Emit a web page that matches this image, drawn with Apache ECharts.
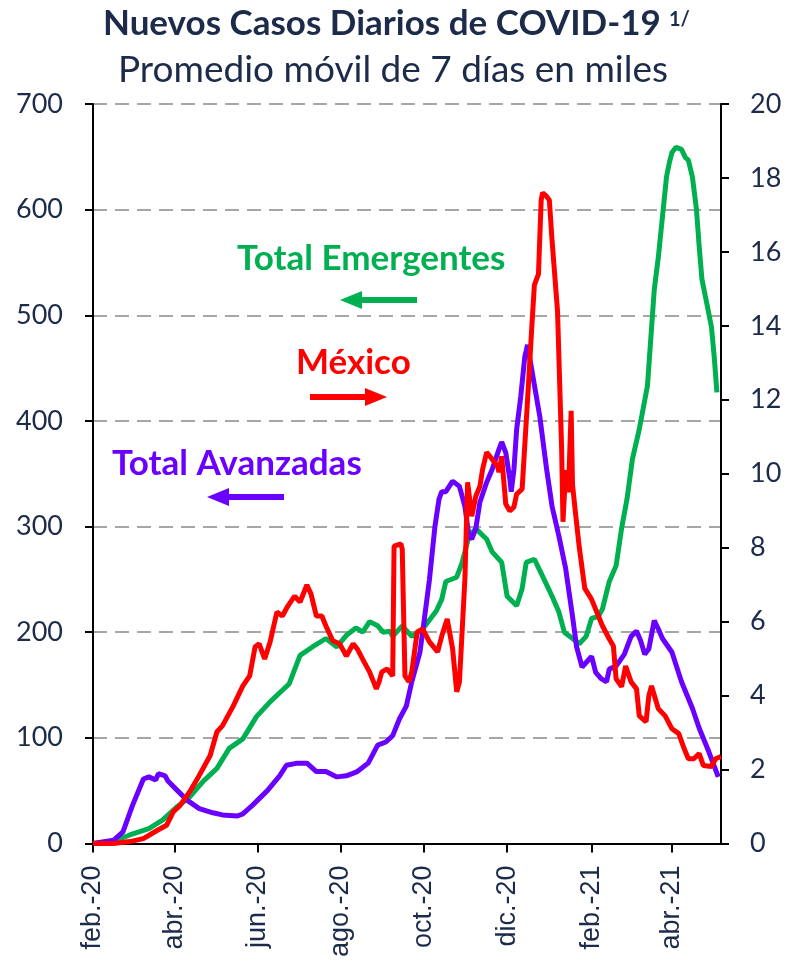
<!DOCTYPE html>
<html>
<head>
<meta charset="utf-8">
<script src="https://cdn.jsdelivr.net/npm/echarts@6/dist/echarts.min.js"></script>
<style>
  html, body { margin: 0; padding: 0; background: #fff; }
  #chart { width: 786px; height: 960px; }
</style>
</head>
<body>
<div id="chart"></div>
<script>
// ejes
var xTickDates = ['2020-02-01', '2020-04-01', '2020-06-01', '2020-08-01', '2020-10-01', '2020-12-01', '2021-02-01', '2021-04-01'];
var xMin = '2020-02-01', xMax = '2021-05-07';
var mesesEs = ['ene.', 'feb.', 'mar.', 'abr.', 'may.', 'jun.', 'jul.', 'ago.', 'sep.', 'oct.', 'nov.', 'dic.'];

// Total Emergentes (eje izquierdo, miles)
var emergDates = ['2020-02-01','2020-02-16','2020-02-28','2020-03-13','2020-03-23','2020-04-03','2020-04-12','2020-04-22','2020-05-02','2020-05-11',
  '2020-05-21','2020-05-31','2020-06-10','2020-06-19','2020-06-24','2020-07-02','2020-07-11','2020-07-21','2020-07-29','2020-08-05',
  '2020-08-12','2020-08-17','2020-08-22','2020-08-28','2020-09-01','2020-09-06','2020-09-08','2020-09-15','2020-09-22','2020-09-30',
  '2020-10-10','2020-10-14','2020-10-17','2020-10-25','2020-10-29','2020-11-03','2020-11-08','2020-11-16','2020-11-20','2020-11-27',
  '2020-12-01','2020-12-08','2020-12-12','2020-12-15','2020-12-21','2020-12-27','2021-01-03','2021-01-08','2021-01-12','2021-01-18',
  '2021-01-23','2021-01-28','2021-02-01','2021-02-06','2021-02-09','2021-02-14','2021-02-19','2021-02-23','2021-02-27','2021-03-03',
  '2021-03-08','2021-03-14','2021-03-19','2021-03-22','2021-03-25','2021-03-28','2021-03-30','2021-04-01','2021-04-04','2021-04-08',
  '2021-04-11','2021-04-13','2021-04-16','2021-04-19','2021-04-21','2021-04-23','2021-04-26','2021-04-30','2021-05-02','2021-05-04'];
var emergValues = [0,2,8,14,22,35,44,59,71,90,
  99,120,134,145,151,178,186,194,186,197,
  204,200,210,206,200,201,196,206,196,203,
  220,231,248,252,266,291,298,288,276,266,
  234,225,241,266,269,253,234,219,200,194,
  189,196,213,215,222,248,263,298,326,364,
  392,433,524,555,593,631,644,654,659,657,
  649,647,631,600,565,534,515,489,461,427];

// Total Avanzadas (eje izquierdo, miles)
var avanzDates = ['2020-02-01','2020-02-16','2020-02-23','2020-03-01','2020-03-09','2020-03-13','2020-03-18','2020-03-20','2020-03-25','2020-03-27',
  '2020-04-03','2020-04-10','2020-04-19','2020-04-29','2020-05-06','2020-05-17','2020-05-21','2020-05-28','2020-06-08','2020-06-17',
  '2020-06-22','2020-06-30','2020-07-07','2020-07-14','2020-07-21','2020-07-29','2020-08-05','2020-08-13','2020-08-21','2020-08-28',
  '2020-09-03','2020-09-08','2020-09-13','2020-09-18','2020-09-22','2020-09-28','2020-10-01','2020-10-05','2020-10-09','2020-10-12',
  '2020-10-14','2020-10-17','2020-10-22','2020-10-27','2020-10-31','2020-11-03','2020-11-05','2020-11-08','2020-11-11','2020-11-16',
  '2020-11-20','2020-11-25','2020-11-27','2020-11-30','2020-12-03','2020-12-04','2020-12-06','2020-12-08','2020-12-11','2020-12-14',
  '2020-12-16','2020-12-19','2020-12-25','2020-12-30','2021-01-03','2021-01-08','2021-01-13','2021-01-18','2021-01-21','2021-01-25',
  '2021-02-01','2021-02-04','2021-02-08','2021-02-12','2021-02-14','2021-02-19','2021-02-25','2021-03-02','2021-03-06','2021-03-09',
  '2021-03-12','2021-03-15','2021-03-19','2021-03-22','2021-03-25','2021-04-01','2021-04-08','2021-04-16','2021-04-21','2021-04-28',
  '2021-05-05'];
var avanzValues = [0,3,11,36,61,63,60,66,64,59,
  50,41,33,29,27,26,28,36,50,64,
  74,76,76,68,68,63,64,68,76,93,
  96,102,118,130,153,181,210,250,300,326,
  333,333,343,338,319,291,288,298,323,342,
  354,373,380,370,345,333,354,392,423,461,
  472,449,404,354,319,291,260,215,186,167,
  177,162,156,153,165,168,179,196,201,192,
  179,184,211,203,194,181,153,128,109,87,
  63];

// México (eje derecho, miles)
var mexDates = ['2020-02-01','2020-02-16','2020-02-28','2020-03-09','2020-03-19','2020-03-26','2020-03-31','2020-04-05','2020-04-12','2020-04-19',
  '2020-04-27','2020-05-02','2020-05-06','2020-05-14','2020-05-21','2020-05-26','2020-05-30','2020-06-02','2020-06-06','2020-06-10',
  '2020-06-15','2020-06-19','2020-06-23','2020-06-28','2020-07-02','2020-07-07','2020-07-10','2020-07-14','2020-07-18','2020-07-21',
  '2020-07-26','2020-07-31','2020-08-05','2020-08-10','2020-08-13','2020-08-18','2020-08-22','2020-08-27','2020-08-29','2020-08-31',
  '2020-09-04','2020-09-08','2020-09-09','2020-09-14','2020-09-15','2020-09-17','2020-09-20','2020-09-22','2020-09-26','2020-09-30',
  '2020-10-05','2020-10-11','2020-10-14','2020-10-18','2020-10-22','2020-10-25','2020-10-27','2020-10-31','2020-11-02','2020-11-05',
  '2020-11-08','2020-11-11','2020-11-13','2020-11-16','2020-11-20','2020-11-24','2020-11-25','2020-11-27','2020-11-30','2020-12-03',
  '2020-12-06','2020-12-08','2020-12-12','2020-12-16','2020-12-19','2020-12-21','2020-12-24','2020-12-26','2020-12-27','2020-12-30',
  '2021-01-01','2021-01-03','2021-01-07','2021-01-10','2021-01-11','2021-01-13','2021-01-15','2021-01-17','2021-01-18','2021-01-20',
  '2021-01-23','2021-01-27','2021-02-01','2021-02-06','2021-02-09','2021-02-14','2021-02-17','2021-02-19','2021-02-23','2021-02-26',
  '2021-03-02','2021-03-06','2021-03-08','2021-03-13','2021-03-15','2021-03-17','2021-03-22','2021-03-27','2021-04-01','2021-04-06',
  '2021-04-10','2021-04-13','2021-04-17','2021-04-21','2021-04-24','2021-04-30','2021-05-03','2021-05-07'];
var mexValues = [0,0,0.05,0.13,0.35,0.49,0.86,1.03,1.40,1.84,
  2.38,3.02,3.18,3.72,4.26,4.53,5.32,5.40,4.99,5.45,
  6.26,6.15,6.42,6.69,6.53,6.99,6.75,6.15,6.15,5.88,
  5.48,5.40,5.07,5.40,5.26,4.91,4.64,4.18,4.37,4.64,
  4.72,4.53,8.04,8.10,7.96,4.53,4.37,4.64,5.72,5.80,
  5.45,5.18,5.61,6.07,5.26,4.10,4.37,7.15,9.77,8.85,
  9.39,9.66,10.12,10.58,10.39,10.20,10.04,10.47,9.18,8.99,
  9.10,9.45,9.58,12.0,13.9,15.1,15.4,17.4,17.6,17.5,
  17.4,16.3,14.4,10.7,8.7,10.1,9.5,11.7,9.7,9.0,
  8.0,6.9,6.6,6.15,5.88,5.53,5.34,4.45,4.24,4.80,
  4.37,4.18,3.45,3.29,3.99,4.26,3.64,3.45,3.10,2.97,
  2.56,2.29,2.29,2.43,2.11,2.08,2.29,2.35];

function ts(f) {
  return +new Date(f + 'T00:00:00');
}
function pares(fechas, valores) {
  return fechas.map(function (f, i) { return [ts(f), valores[i]]; });
}

var navy = '#1d2b4b';
var verde = '#00B050', rojo = '#FF0000', morado = '#6A00FF';
var tickVals = xTickDates.map(ts);

var myChart = echarts.init(document.getElementById('chart'));
var option = {
  animation: false,
  backgroundColor: '#fff',
  title: [
    {
      text: 'Nuevos Casos Diarios de COVID-19',
      left: 98, top: 1,
      textStyle: { color: navy, fontFamily: 'Lato', fontWeight: 'bold', fontSize: 35 }
    },
    {
      text: '1/',
      left: 664, top: 5,
      textStyle: { color: navy, fontFamily: 'Lato', fontWeight: 'bold', fontSize: 20 }
    },
    {
      text: 'Promedio móvil de 7 días en miles',
      left: 'center', top: 47,
      textStyle: { color: navy, fontFamily: 'Lato', fontWeight: 'normal', fontSize: 37 }
    }
  ],
  grid: { left: 93, right: 65, top: 104, bottom: 115, containLabel: false },
  xAxis: {
    type: 'value',
    min: ts(xMin),
    max: ts(xMax),
    axisLine: { lineStyle: { color: '#000', width: 2 } },
    axisTick: {
      show: true, length: 9, lineStyle: { color: '#000', width: 2 },
      customValues: tickVals
    },
    axisLabel: {
      rotate: 90,
      color: navy,
      fontFamily: 'Liberation Sans',
      fontSize: 27,
      margin: 22,
      customValues: tickVals,
      formatter: function (v) {
        var d = new Date(v);
        return mesesEs[d.getMonth()] + '-' + String(d.getFullYear()).slice(2);
      }
    },
    splitLine: { show: false }
  },
  yAxis: [
    {
      type: 'value', min: 0, max: 700, interval: 100,
      axisLine: { show: true, lineStyle: { color: '#000', width: 2 } },
      axisTick: { show: true, length: 8, lineStyle: { color: '#000', width: 2 } },
      axisLabel: { color: navy, fontFamily: 'Lato', fontSize: 27, margin: 30 },
      splitLine: { show: true, lineStyle: { color: '#A6A6A6', width: 2, type: [14, 8] } }
    },
    {
      type: 'value', min: 0, max: 20, interval: 2,
      axisLine: { show: true, lineStyle: { color: '#000', width: 2 } },
      axisTick: { show: true, length: 8, lineStyle: { color: '#000', width: 2 } },
      axisLabel: { color: navy, fontFamily: 'Lato', fontSize: 27, margin: 29 },
      splitLine: { show: false }
    }
  ],
  series: [
    {
      name: 'Total Emergentes', type: 'line', yAxisIndex: 0,
      data: pares(emergDates, emergValues),
      showSymbol: false, z: 2,
      lineStyle: { color: verde, width: 5 }, itemStyle: { color: verde }
    },
    {
      name: 'Total Avanzadas', type: 'line', yAxisIndex: 0,
      data: pares(avanzDates, avanzValues),
      showSymbol: false, z: 3,
      lineStyle: { color: morado, width: 5 }, itemStyle: { color: morado }
    },
    {
      name: 'México', type: 'line', yAxisIndex: 1,
      data: pares(mexDates, mexValues),
      showSymbol: false, z: 4,
      lineStyle: { color: rojo, width: 5 }, itemStyle: { color: rojo }
    }
  ],
  graphic: [
    // etiquetas y flechas
    { type: 'text', left: 237, top: 241, style: { text: 'Total Emergentes', fill: verde, font: 'bold 35px Lato' } },
    { type: 'line', shape: { x1: 360, y1: 300, x2: 417, y2: 300 }, style: { stroke: verde, lineWidth: 6 } },
    { type: 'polygon', shape: { points: [[340, 300], [362, 291], [362, 309]] }, style: { fill: verde } },

    { type: 'text', left: 296, top: 345, style: { text: 'México', fill: rojo, font: 'bold 35px Lato' } },
    { type: 'line', shape: { x1: 310, y1: 397, x2: 368, y2: 397 }, style: { stroke: rojo, lineWidth: 6 } },
    { type: 'polygon', shape: { points: [[387, 397], [365, 388], [365, 406]] }, style: { fill: rojo } },

    { type: 'text', left: 112, top: 446, style: { text: 'Total Avanzadas', fill: morado, font: 'bold 35px Lato' } },
    { type: 'line', shape: { x1: 226, y1: 497, x2: 284, y2: 497 }, style: { stroke: morado, lineWidth: 6 } },
    { type: 'polygon', shape: { points: [[207, 497], [229, 488], [229, 506]] }, style: { fill: morado } }
  ]
};
myChart.setOption(option);

window.onresize = function () {
  myChart.resize();
};
</script>
</body>
</html>
